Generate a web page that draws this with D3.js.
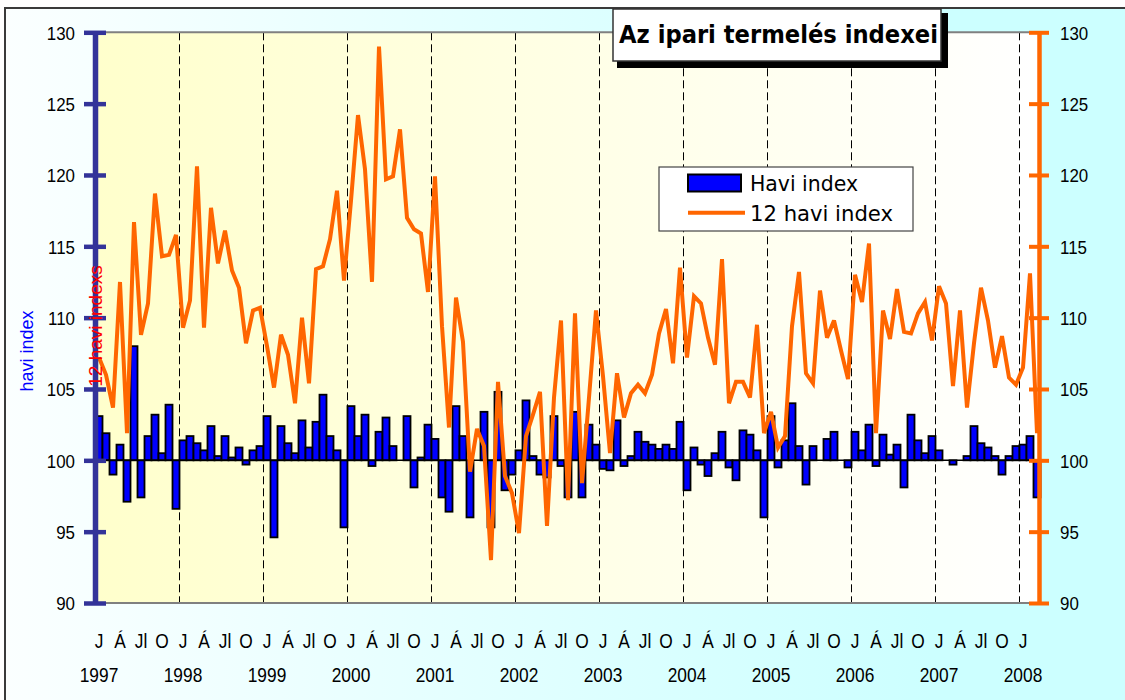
<!DOCTYPE html>
<html>
<head>
<meta charset="utf-8">
<script src="https://cdn.jsdelivr.net/npm/d3@7"></script>
<style>
  body { margin: 0; background: #fff; }
  svg { display: block; }
</style>
</head>
<body>
<svg id="chart"></svg>
<script>
// category labels
const years = ['1997', '1998', '1999', '2000', '2001', '2002', '2003', '2004', '2005', '2006', '2007', '2008'];
const monthAbbr = ['J', 'Á', 'Jl', 'O'];
const yTicks = [90, 95, 100, 105, 110, 115, 120, 125, 130];

// Havi index (monthly), Jan 1997 - Mar 2008
const haviIndex = [
  103.1, 101.9, 99.0, 101.1, 97.1, 108.0, 97.4, 101.7, 103.2, 100.5, 103.9, 96.6,
  101.4, 101.7, 101.2, 100.7, 102.4, 100.3, 101.7, 100.2, 100.9, 99.7, 100.7, 101.0,
  103.1, 94.6, 102.4, 101.2, 100.5, 102.8, 100.9, 102.7, 104.6, 101.7, 100.7, 95.3,
  103.8, 101.7, 103.2, 99.6, 102.0, 103.0, 101.0, 100.0, 103.1, 98.1, 100.2, 102.5,
  101.5, 97.4, 96.4, 103.8, 101.7, 96.0, 100.0, 103.4, 95.3, 104.8, 97.9, 99.0,
  100.7, 104.2, 100.3, 99.0, 98.8, 103.1, 99.6, 97.4, 103.4, 97.4, 102.5, 101.1,
  99.4, 99.3, 102.8, 99.6, 100.3, 102.0, 101.3, 101.1, 100.8, 101.1, 100.8, 102.7,
  97.9, 100.9, 99.7, 98.9, 100.5, 102.0, 99.5, 98.6, 102.1, 101.8, 100.7, 96.0,
  103.1, 99.5, 101.4, 104.0, 101.0, 98.3, 101.0, 100.0, 101.5, 102.0, 100.0, 99.5,
  102.0, 100.7, 102.5, 99.6, 101.8, 100.4, 101.1, 98.1, 103.2, 101.4, 100.5, 101.7,
  100.7, 100.0, 99.7, 100.0, 100.3, 102.4, 101.2, 100.9, 100.3, 99.0, 100.3, 101.0,
  101.1, 101.7, 97.4
];

// 12 havi index
const tizenketHaviIndex = [
  107.2, 106.0, 103.7, 112.5, 101.9, 116.7, 108.8, 111.0, 118.7, 114.3, 114.4, 115.8,
  109.3, 111.2, 120.6, 109.3, 117.7, 113.8, 116.1, 113.3, 112.1, 108.2, 110.5, 110.7,
  108.0, 105.1, 108.8, 107.4, 104.0, 110.0, 105.4, 113.4, 113.6, 115.5, 118.9, 112.6,
  118.2, 124.2, 120.4, 112.5, 129.0, 119.7, 119.9, 123.2, 117.0, 116.2, 115.9, 111.8,
  119.9, 109.4, 102.3, 111.4, 108.3, 99.2, 102.2, 101.0, 93.0, 105.5, 98.9, 97.7,
  94.9, 101.7, 103.2, 104.8, 95.4, 104.4, 109.8, 97.2, 110.3, 98.4, 104.4, 110.5,
  105.9, 100.5, 106.1, 103.0, 104.7, 105.3, 104.7, 106.0, 108.9, 110.6, 106.8, 113.5,
  107.2, 111.5, 111.0, 108.6, 106.7, 114.1, 104.0, 105.5, 105.5, 104.4, 109.5, 101.9,
  103.4, 100.9, 101.7, 109.4, 113.2, 106.1, 105.4, 111.9, 108.6, 109.8, 107.7, 105.7,
  113.0, 111.1, 115.2, 101.9, 110.5, 108.5, 112.0, 109.0, 108.9, 110.3, 111.1, 108.4,
  112.2, 111.0, 105.2, 110.5, 103.7, 108.2, 112.1, 109.8, 106.5, 108.7, 105.8, 105.3,
  106.5, 113.1, 101.9
];

const width = 1125, height = 700;
const K = 0.89; // text in the picture is a little narrower than normal
const sans = '"Liberation Sans", Arial, sans-serif';
const verdana = '"DejaVu Sans", Verdana, sans-serif';

const svg = d3.select('#chart').attr('width', width).attr('height', height);

const defs = svg.append('defs');
const bgGrad = defs.append('linearGradient').attr('id', 'bg');
bgGrad.append('stop').attr('offset', '0%').attr('stop-color', '#fbffff');
bgGrad.append('stop').attr('offset', '82%').attr('stop-color', '#ccffff');
bgGrad.append('stop').attr('offset', '100%').attr('stop-color', '#ccffff');
const plotGrad = defs.append('linearGradient').attr('id', 'plotbg');
plotGrad.append('stop').attr('offset', '0%').attr('stop-color', '#ffffcc');
plotGrad.append('stop').attr('offset', '100%').attr('stop-color', '#ffffff');

// chart area
svg.append('rect').attr('width', width).attr('height', height).attr('fill', '#fff');
svg.append('rect')
  .attr('x', 5).attr('y', 8).attr('width', 1130).attr('height', 700)
  .attr('fill', 'url(#bg)').attr('stroke', '#3a3a3a').attr('stroke-width', 2);

const x = d3.scaleBand()
  .domain(d3.range(haviIndex.length))
  .range([95.5, 1040.5])
  .padding(0);
const y = d3.scaleLinear().domain([90, 130]).range([603, 32.3]);
const bw = x.bandwidth();
const cx = i => x(i) + bw / 2;

// plot area
svg.append('rect')
  .attr('x', 95.5).attr('y', y(130))
  .attr('width', 1039 - 95.5).attr('height', y(90) - y(130))
  .attr('fill', 'url(#plotbg)');

// year separators
const yearStarts = d3.range(haviIndex.length).filter(i => i % 12 === 0 && i > 0);
svg.append('g').selectAll('line')
  .data(yearStarts)
  .join('line')
  .attr('x1', i => x(i)).attr('x2', i => x(i))
  .attr('y1', y(130)).attr('y2', y(90))
  .attr('stroke', '#000').attr('stroke-width', 1)
  .attr('stroke-dasharray', '8,4');

// plot border top/bottom
svg.append('g').selectAll('line')
  .data([130, 90])
  .join('line')
  .attr('x1', 95.5).attr('x2', 1039)
  .attr('y1', d => y(d)).attr('y2', d => y(d))
  .attr('stroke', '#808080').attr('stroke-width', 2);

// bars from 100
svg.append('g').selectAll('rect')
  .data(haviIndex)
  .join('rect')
  .attr('x', (d, i) => x(i))
  .attr('width', bw)
  .attr('y', d => y(Math.max(d, 100)))
  .attr('height', d => Math.abs(y(d) - y(100)))
  .attr('fill', '#0000ff')
  .attr('stroke', '#000')
  .attr('stroke-width', 1.8);

svg.append('line')
  .attr('x1', 85).attr('x2', 1039)
  .attr('y1', y(100)).attr('y2', y(100))
  .attr('stroke', '#000').attr('stroke-width', 1.5);

// 12 havi index line
const line = d3.line()
  .x((d, i) => cx(i))
  .y(d => y(d));
svg.append('path')
  .datum(tizenketHaviIndex)
  .attr('d', line)
  .attr('fill', 'none')
  .attr('stroke', '#ff6600')
  .attr('stroke-width', 4)
  .attr('stroke-linejoin', 'miter')
  .attr('stroke-miterlimit', 3);

// left axis
const gL = svg.append('g')
  .attr('transform', 'translate(95,0)')
  .call(d3.axisLeft(y).tickValues(yTicks).tickSizeInner(11).tickSizeOuter(0).tickPadding(9));
gL.select('.domain').attr('stroke', '#333399').attr('stroke-width', 5.5);
gL.selectAll('.tick line').attr('x1', 11).attr('x2', -11)
  .attr('stroke', '#333399').attr('stroke-width', 4.5);
gL.selectAll('.tick text')
  .attr('x', 0).attr('dy', '0.36em')
  .attr('transform', `translate(-20,0) scale(${K},1)`)
  .attr('fill', '#000')
  .style('font-family', sans).style('font-size', '19px');

// right axis
const gR = svg.append('g')
  .attr('transform', 'translate(1039,0)')
  .call(d3.axisRight(y).tickValues(yTicks).tickSizeInner(10).tickSizeOuter(0).tickPadding(11));
gR.select('.domain').attr('stroke', '#ff6600').attr('stroke-width', 4.5);
gR.selectAll('.tick line').attr('x1', -10).attr('x2', 10)
  .attr('stroke', '#ff6600').attr('stroke-width', 4);
gR.selectAll('.tick text')
  .attr('x', 0).attr('dy', '0.36em')
  .attr('transform', `translate(21,0) scale(${K},1)`)
  .attr('fill', '#000')
  .style('font-family', sans).style('font-size', '19px');

// category labels (two levels)
const monthTicks = d3.range(haviIndex.length).filter(i => i % 3 === 0);
svg.append('g').selectAll('text')
  .data(monthTicks)
  .join('text')
  .attr('transform', i => `translate(${cx(i)},648) scale(${K},1)`)
  .attr('text-anchor', 'middle')
  .style('font-family', sans).style('font-size', '19.5px')
  .text(i => monthAbbr[(i % 12) / 3]);

svg.append('g').selectAll('text')
  .data(d3.range(haviIndex.length).filter(i => i % 12 === 0))
  .join('text')
  .attr('transform', i => `translate(${cx(i)},681.5) scale(${K},1)`)
  .attr('text-anchor', 'middle')
  .style('font-family', sans).style('font-size', '19.5px')
  .text(i => years[i / 12]);

// axis titles
svg.append('text')
  .attr('transform', 'translate(33,351) rotate(-90)')
  .attr('text-anchor', 'middle')
  .attr('fill', '#0000ff')
  .style('font-family', sans).style('font-size', '18px')
  .text('havi index');

svg.append('text')
  .attr('transform', 'translate(102,326) rotate(-90)')
  .attr('text-anchor', 'middle')
  .attr('fill', '#ff0000')
  .style('font-family', sans).style('font-size', '19px')
  .text('12 havi indexs');

// legend
const legend = svg.append('g');
legend.append('rect')
  .attr('x', 659).attr('y', 167).attr('width', 254).attr('height', 64)
  .attr('fill', '#fff').attr('stroke', '#444').attr('stroke-width', 1.2);
legend.append('rect')
  .attr('x', 688).attr('y', 174.5).attr('width', 53).attr('height', 17)
  .attr('fill', '#0000ff').attr('stroke', '#000').attr('stroke-width', 2);
legend.append('line')
  .attr('x1', 688).attr('x2', 745).attr('y1', 212.7).attr('y2', 212.7)
  .attr('stroke', '#ff6600').attr('stroke-width', 4);
legend.append('text')
  .attr('x', 750).attr('y', 190.7)
  .attr('textLength', 108).attr('lengthAdjust', 'spacingAndGlyphs')
  .style('font-family', verdana).style('font-size', '22px')
  .text('Havi index');
legend.append('text')
  .attr('x', 750).attr('y', 220.7)
  .attr('textLength', 143).attr('lengthAdjust', 'spacingAndGlyphs')
  .style('font-family', verdana).style('font-size', '22px')
  .text('12 havi index');

// title box with shadow
const title = svg.append('g');
title.append('rect')
  .attr('x', 617).attr('y', 13).attr('width', 331).attr('height', 55)
  .attr('fill', '#000');
title.append('rect')
  .attr('x', 613).attr('y', 9).attr('width', 328).attr('height', 52)
  .attr('fill', '#fff').attr('stroke', '#333').attr('stroke-width', 1.5);
title.append('text')
  .attr('x', 619).attr('y', 43)
  .attr('textLength', 319).attr('lengthAdjust', 'spacingAndGlyphs')
  .style('font-family', verdana).style('font-size', '25px').style('font-weight', 'bold')
  .text('Az ipari termelés indexei');
</script>
</body>
</html>
